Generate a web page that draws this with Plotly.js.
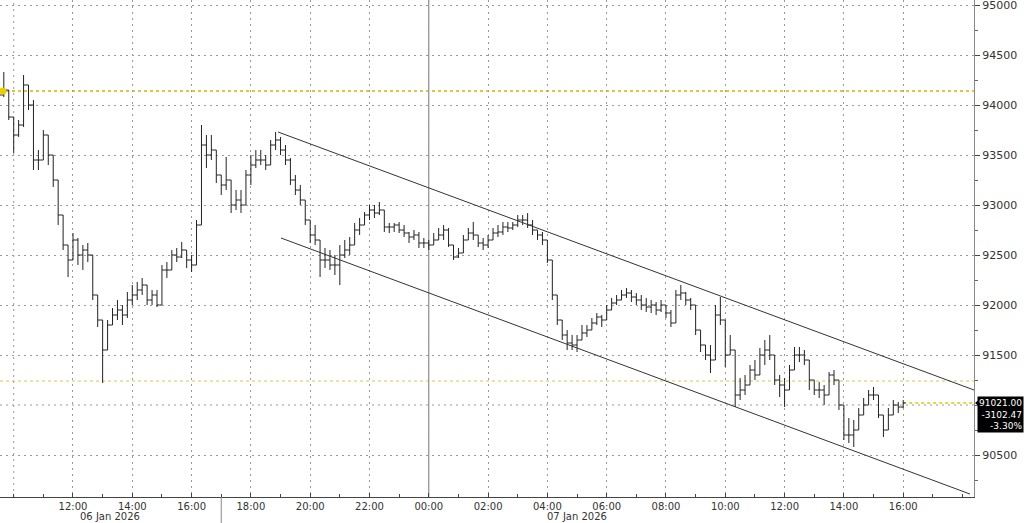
<!DOCTYPE html>
<html><head><meta charset="utf-8">
<script src="https://cdn.plot.ly/plotly-3.0.1.min.js"></script>
<style>html,body{margin:0;padding:0;background:#fff;}#chart{width:1024px;height:523px;}</style>
</head><body><div id="chart"></div>
<script>
// 10-minute bars starting 06 Jan 2026 09:30
const barStartDay = 6, barStartMinute = 9*60+30, barMinutes = 10;
const opens = [
94150,94100,94150,93880,93700,93800,94200,94000,93450,93450,
93700,93500,93250,92900,92600,92450,92650,92500,92550,92500,
92100,91850,91550,91800,91900,91950,91900,92050,92100,92150,
92200,92050,92100,92000,92350,92350,92500,92480,92550,92450,
92400,92800,93600,93500,93550,93300,93200,93250,93000,93050,
93000,93300,93400,93450,93450,93400,93600,93650,93550,93450,
93250,93150,93050,92850,92700,92650,92450,92450,92400,92400,
92500,92550,92600,92750,92800,92900,92950,92920,92950,92780,
92780,92800,92750,92720,92680,92700,92620,92620,92600,92650,
92700,92750,92600,92480,92520,92650,92720,92700,92620,92600,
92650,92720,92730,92780,92770,92800,92850,92850,92800,92750,
92700,92650,92450,92100,91850,91700,91620,91600,91650,91720,
91750,91820,91880,91850,91950,92020,92050,92100,92120,92080,
92050,92000,91980,92000,91950,92000,91920,91820,92100,92120,
92050,92000,91750,91600,91500,91450,91900,91850,91500,91550,
91100,91150,91200,91350,91300,91500,91550,91500,91250,91200,
91150,91350,91500,91500,91450,91250,91150,91150,91100,91300,
91250,91000,90700,90700,90750,90900,91000,91100,91100,90900,
90750,90900,91000,90980];
const highs = [
94220,94330,94150,93880,93850,94300,94200,94050,93550,93750,
93700,93500,93250,92900,92600,92720,92670,92600,92620,92500,
92100,91850,91850,91970,92050,92000,92130,92200,92230,92270,
92200,92150,92150,92400,92430,92550,92570,92630,92550,92500,
92850,93800,93700,93700,93550,93300,93480,93250,93150,93150,
93350,93500,93550,93550,93500,93650,93730,93680,93600,93470,
93300,93200,93050,92850,92800,92650,92570,92550,92500,92600,
92650,92680,92820,92870,92930,93000,93000,93030,92950,92820,
92820,92830,92800,92730,92750,92730,92670,92650,92720,92770,
92800,92770,92600,92570,92700,92770,92830,92700,92670,92700,
92770,92800,92830,92830,92830,92900,92900,92920,92850,92750,
92730,92650,92450,92100,91850,91750,91700,91700,91800,91800,
91870,91920,91900,92000,92070,92100,92150,92170,92150,92120,
92100,92070,92050,92030,92050,92000,91950,92150,92200,92130,
92070,92000,91750,91600,91600,92000,92080,91850,91700,91550,
91270,91300,91400,91450,91570,91650,91700,91500,91300,91270,
91400,91580,91580,91550,91450,91250,91230,91200,91330,91350,
91250,91000,90870,90850,90970,91070,91150,91180,91100,90900,
90970,91050,91030,91050];
const lows = [
94050,94080,93850,93520,93680,93780,93950,93350,93350,93450,
93400,93180,92800,92550,92280,92450,92400,92350,92430,92050,
91780,91220,91550,91800,91850,91800,91870,92000,92050,92100,
92000,92000,91980,92000,92270,92350,92430,92470,92370,92330,
92400,92800,93370,93450,93220,93100,93150,92920,92950,92920,
93000,93200,93370,93400,93350,93400,93550,93500,93400,93200,
93100,93000,92800,92620,92600,92280,92370,92350,92300,92200,
92470,92500,92600,92700,92800,92850,92870,92900,92730,92720,
92730,92720,92680,92620,92650,92570,92570,92550,92600,92650,
92650,92580,92450,92470,92520,92650,92650,92580,92550,92570,
92650,92680,92700,92730,92750,92780,92800,92770,92700,92650,
92600,92420,92050,91800,91650,91550,91550,91530,91650,91680,
91750,91800,91780,91850,91950,92000,92050,92070,92030,92000,
91950,91930,91920,91900,91930,91870,91780,91820,92050,92000,
91950,91700,91530,91450,91320,91450,91800,91380,91500,90980,
91050,91100,91200,91250,91300,91400,91450,91200,91080,90980,
91150,91350,91430,91400,91150,91100,91070,91000,91100,91200,
90950,90650,90620,90580,90750,90900,91000,91050,90870,90680,
90750,90900,90920,90970];
const closes = [
94100,94150,93880,93700,93800,94200,94000,93450,93450,93700,
93500,93250,92900,92600,92450,92650,92500,92550,92500,92100,
91850,91550,91800,91900,91950,91900,92050,92100,92150,92200,
92050,92100,92000,92350,92350,92500,92480,92550,92450,92400,
92800,93600,93500,93550,93300,93200,93250,93000,93050,93000,
93300,93400,93450,93450,93400,93600,93650,93550,93450,93250,
93150,93050,92850,92700,92650,92450,92450,92400,92400,92500,
92550,92600,92750,92800,92900,92950,92920,92950,92780,92780,
92800,92750,92720,92680,92700,92620,92620,92600,92650,92700,
92750,92600,92480,92520,92650,92720,92700,92620,92600,92650,
92720,92730,92780,92770,92800,92850,92850,92800,92750,92700,
92650,92450,92100,91850,91700,91620,91600,91650,91720,91750,
91820,91880,91850,91950,92020,92050,92100,92120,92080,92050,
92000,91980,92000,91950,92000,91920,91820,92100,92120,92050,
92000,91750,91600,91500,91450,91900,91850,91500,91550,91100,
91150,91200,91350,91300,91500,91550,91500,91250,91200,91150,
91350,91500,91500,91450,91250,91150,91150,91100,91300,91250,
91000,90700,90700,90750,90900,91000,91100,91100,90900,90750,
90900,91000,90980,91021];

const xTickVals = ["2026-01-06 12:00","2026-01-06 14:00","2026-01-06 16:00","2026-01-06 18:00","2026-01-06 20:00","2026-01-06 22:00","2026-01-07 00:00","2026-01-07 02:00","2026-01-07 04:00","2026-01-07 06:00","2026-01-07 08:00","2026-01-07 10:00","2026-01-07 12:00","2026-01-07 14:00","2026-01-07 16:00"];
const xTickText = ["12:00","14:00","16:00","18:00","20:00","22:00","00:00","02:00","04:00","06:00","08:00","10:00","12:00","14:00","16:00"];
// 91000 label sits behind the last-price box in the reference
const yTickVals = [90500, 91500, 92000, 92500, 93000, 93500, 94000, 94500, 95000];
const yTickText = ["90500","91500","92000","92500","93000","93500","94000","94500","95000"];
const yGridVals = [91000];
const dateLabels = ["06 Jan 2026","07 Jan 2026"];
const dateLabelTimes = ["2026-01-06 13:15","2026-01-07 05:00"];
const levelLines = [94140, 91240];
const lastPrice = 91021.00, netChange = -3102.47, pctChange = -3.30;
const channelUpperX = ["2026-01-06 18:55","2026-01-07 18:23:17"], channelUpperY = [93730, 91150];
const channelLowerX = ["2026-01-06 19:01","2026-01-07 18:15"], channelLowerY = [92670, 90110];
const markerTime = "2026-01-06 09:38:20", markerPrice = 94140;

function pad(n){return (n<10?"0":"")+n;}
const times = closes.map((_, i) => {
  const m = barStartMinute + i*barMinutes;
  const d = barStartDay + Math.floor(m/1440);
  const mm = m % 1440;
  return "2026-01-" + pad(d) + " " + pad(Math.floor(mm/60)) + ":" + pad(mm%60);
});

const xRange = ["2026-01-06 09:32:18", "2026-01-07 18:23:17"];
const lastTime = times[times.length-1];

const traces = [
  {type:"ohlc", x:times, open:opens, high:highs, low:lows, close:closes,
   increasing:{line:{color:"#222", width:1}}, decreasing:{line:{color:"#222", width:1}},
   tickwidth:0.5, hoverinfo:"skip", showlegend:false},
  {type:"scatter", mode:"markers", x:[markerTime], y:[markerPrice],
   marker:{color:"#e8cf00", size:7}, hoverinfo:"skip", showlegend:false, cliponaxis:false}
];

const gridDash = "2px,4px";
const shapes = [];
yGridVals.forEach(v => shapes.push({type:"line", xref:"paper", x0:0, x1:1, yref:"y", y0:v, y1:v,
  line:{color:"#999", width:1, dash:gridDash}, layer:"below"}));
levelLines.forEach((v, i) => shapes.push({type:"line", xref:"paper", x0:0, x1:1, yref:"y", y0:v, y1:v,
  line:{color: i === 0 ? "#cdb600" : "#d8c850", width: i === 0 ? 1.5 : 1.2, dash:"dot"}, layer:"below"}));
shapes.push({type:"line", xref:"x", x0:lastTime, x1:xRange[1], yref:"y", y0:lastPrice, y1:lastPrice,
  line:{color:"#d4d000", width:1.5, dash:"dot"}, layer:"below"});
shapes.push({type:"line", xref:"x", x0:"2026-01-07 00:00", x1:"2026-01-07 00:00", yref:"paper", y0:0, y1:1,
  line:{color:"#777", width:1}, layer:"below"});
shapes.push({type:"line", xref:"x", x0:"2026-01-06 10:00", x1:"2026-01-06 10:00", yref:"paper", y0:0, y1:1,
  line:{color:"#999", width:1, dash:gridDash}, layer:"below"});
shapes.push({type:"line", xref:"x", x0:"2026-01-06 17:00", x1:"2026-01-06 17:00", yref:"paper", y0:-0.06, y1:0.0,
  line:{color:"#888", width:1}});
shapes.push({type:"line", xref:"x", x0:channelUpperX[0], x1:channelUpperX[1], yref:"y", y0:channelUpperY[0], y1:channelUpperY[1],
  line:{color:"#333", width:1}});
shapes.push({type:"line", xref:"x", x0:channelLowerX[0], x1:channelLowerX[1], yref:"y", y0:channelLowerY[0], y1:channelLowerY[1],
  line:{color:"#333", width:1}});
shapes.push({type:"path", xref:"paper", yref:"y", path:"M 1.001 91021 L 1.007 91070 L 1.007 90972 Z",
  fillcolor:"#000", line:{width:0}});

const annotations = [
  {xref:"paper", x:1, xanchor:"left", xshift:3, yref:"y", y:lastPrice, yanchor:"top", yshift:7,
   text: lastPrice.toFixed(2) + "<br>" + netChange.toFixed(2) + "<br>" + pctChange.toFixed(2) + "%",
   showarrow:false, align:"right", bgcolor:"#000", borderpad:1,
   font:{family:"DejaVu Sans", size:9, color:"#fff"}}
];
dateLabels.forEach((t, i) => annotations.push({xref:"x", x:dateLabelTimes[i], yref:"paper", y:-0.039, yanchor:"middle",
  text:t, showarrow:false, font:{family:"DejaVu Sans", size:10, color:"#333"}}));

const layout = {
  width:1024, height:523,
  margin:{l:0, r:50, t:0, b:26, pad:0},
  paper_bgcolor:"#fff", plot_bgcolor:"#fff",
  showlegend:false, dragmode:false,
  xaxis:{type:"date", range:xRange, rangeslider:{visible:false},
    tickmode:"array", tickvals:xTickVals, ticktext:xTickText,
    ticks:"inside", ticklen:4, tickcolor:"#444",
    minor:{tickmode:"linear", tick0:"2026-01-06 00:00", dtick:3600000, ticks:"inside", ticklen:3, tickcolor:"#444", showgrid:false},
    showgrid:true, gridcolor:"#999", griddash:gridDash, gridwidth:1,
    showline:true, linecolor:"#444", linewidth:1, zeroline:false,
    tickfont:{family:"DejaVu Sans", size:10, color:"#333"}, fixedrange:true},
  yaxis:{side:"right", range:[90080, 95050], tickmode:"array", tickvals:yTickVals, ticktext:yTickText,
    ticklabeloverflow:"allow",
    ticks:"outside", ticklen:5, tickcolor:"#444",
    minor:{tickmode:"linear", tick0:90000, dtick:250, ticks:"outside", ticklen:3, tickcolor:"#666", showgrid:false},
    showgrid:true, gridcolor:"#999", griddash:gridDash, gridwidth:1,
    showline:true, linecolor:"#888", linewidth:1, zeroline:false,
    tickfont:{family:"DejaVu Sans", size:11, color:"#333"}, fixedrange:true},
  shapes:shapes, annotations:annotations
};

Plotly.newPlot("chart", traces, layout, {displayModeBar:false, staticPlot:true});
</script></body></html>
